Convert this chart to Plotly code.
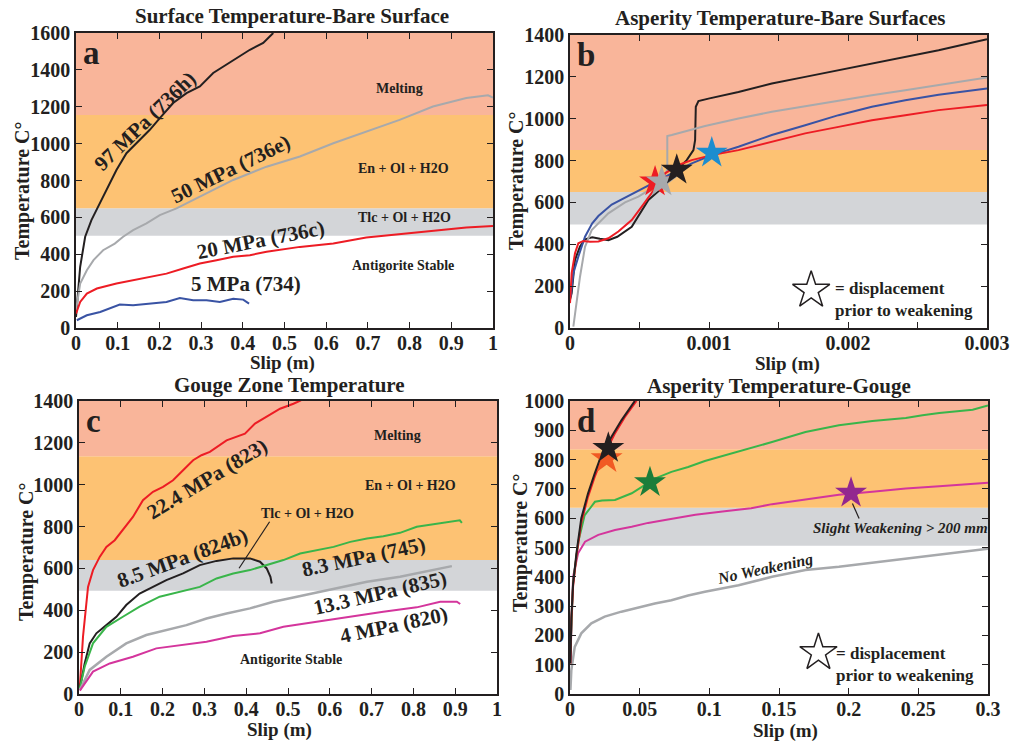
import plotly.graph_objects as go

# ---------------- Panel a : Surface Temperature - Bare Surface ----------------
a_bands = [500, 650, 1155, 1600]
a_97_x = [0, 0.003, 0.01, 0.022, 0.037, 0.051, 0.073, 0.097, 0.121, 0.153, 0.177, 0.201, 0.233, 0.265, 0.297, 0.329, 0.361, 0.393, 0.417, 0.449, 0.473]
a_97_y = [60, 150, 332, 495, 585, 649, 748, 857, 948, 1020, 1075, 1138, 1220, 1274, 1310, 1383, 1428, 1473, 1509, 1546, 1600]
a_50_x = [0, 0.01, 0.026, 0.042, 0.065, 0.093, 0.113, 0.137, 0.169, 0.201, 0.241, 0.281, 0.337, 0.377, 0.457, 0.537, 0.617, 0.696, 0.776, 0.856, 0.936, 0.988, 1.0]
a_50_y = [96, 241, 313, 368, 422, 458, 495, 531, 567, 612, 649, 694, 757, 803, 875, 930, 1002, 1065, 1129, 1201, 1247, 1262, 1250]
a_20_x = [0, 0.01, 0.026, 0.05, 0.097, 0.137, 0.177, 0.217, 0.257, 0.297, 0.337, 0.377, 0.417, 0.457, 0.537, 0.617, 0.696, 0.776, 0.856, 0.936, 1.0]
a_20_y = [78, 141, 187, 214, 241, 259, 281, 295, 323, 350, 368, 386, 395, 413, 440, 458, 491, 509, 531, 545, 553]
a_5_x = [0.002, 0.026, 0.058, 0.081, 0.105, 0.137, 0.177, 0.217, 0.249, 0.281, 0.313, 0.345, 0.377, 0.401, 0.415]
a_5_y = [42, 69, 87, 105, 127, 123, 132, 141, 163, 150, 150, 141, 159, 154, 132]

# ---------------- Panel b : Asperity Temperature - Bare Surfaces ----------------
b_bands = [495, 650, 850, 1400]
b_black_x = [0, 0.000012, 0.000036, 0.000072, 0.000108, 0.00016, 0.000215, 0.000276, 0.00034, 0.000444, 0.000564, 0.00066, 0.000732, 0.00078, 0.00084, 0.000888, 0.0009, 0.000905, 0.000924, 0.000996, 0.001212, 0.001452, 0.001692, 0.001932, 0.002172, 0.002412, 0.002652, 0.003]
b_black_y = [135, 167, 326, 389, 424, 433, 426, 420, 436, 484, 612, 667, 723, 763, 802, 850, 898, 1057, 1084, 1096, 1128, 1168, 1200, 1232, 1263, 1295, 1327, 1380]
b_gray_x = [0.000024, 0.000048, 0.000072, 0.000108, 0.000156, 0.000276, 0.000396, 0.000492, 0.000588, 0.00066, 0.0007, 0.0007, 0.000732, 0.000972, 0.001212, 0.001452, 0.001692, 0.001932, 0.002172, 0.002412, 0.002652, 0.003]
b_gray_y = [6, 130, 245, 388, 468, 548, 600, 628, 667, 707, 755, 917, 922, 965, 1001, 1033, 1060, 1088, 1112, 1136, 1160, 1197]
b_blue_x = [0.000005, 0.000024, 0.00006, 0.000108, 0.00016, 0.000204, 0.0003, 0.000396, 0.000492, 0.000612, 0.000732, 0.000876, 0.00102, 0.001212, 0.001452, 0.001692, 0.001932, 0.002172, 0.002412, 0.002652, 0.003]
b_blue_y = [150, 262, 341, 436, 500, 535, 590, 624, 655, 699, 739, 787, 826, 866, 922, 969, 1017, 1057, 1088, 1115, 1144]
b_red_x = [0, 0.000012, 0.000036, 0.00006, 0.000096, 0.000144, 0.000204, 0.000276, 0.000348, 0.000444, 0.000516, 0.000612, 0.000684, 0.00078, 0.000876, 0.00102, 0.001212, 0.001452, 0.001692, 0.001932, 0.002172, 0.002412, 0.002652, 0.003]
b_red_y = [119, 262, 357, 405, 416, 412, 413, 429, 461, 516, 580, 667, 739, 779, 802, 826, 850, 890, 930, 961, 993, 1017, 1041, 1065]
b_star_x = [0.000612, 0.00066, 0.000768, 0.00102]
b_star_y = [699, 699, 755, 837]
b_star_colors = ["#ed1c24", "#a7a9ac", "#231f20", "#1c8dcf"]

# ---------------- Panel c : Gouge Zone Temperature ----------------
c_bands = [493, 640, 1136, 1400]
c_224_x = [0.002, 0.0096, 0.0216, 0.0335, 0.0495, 0.0655, 0.0855, 0.105, 0.129, 0.153, 0.177, 0.201, 0.225, 0.249, 0.273, 0.293, 0.313, 0.353, 0.397, 0.421, 0.449, 0.481, 0.513, 0.531]
c_224_y = [35, 274, 512, 592, 655, 703, 735, 783, 846, 926, 966, 990, 1021, 1069, 1117, 1141, 1157, 1212, 1244, 1292, 1324, 1363, 1387, 1403]
c_85_x = [0.002, 0.0136, 0.0256, 0.0415, 0.0655, 0.0895, 0.113, 0.145, 0.177, 0.209, 0.249, 0.289, 0.329, 0.369, 0.409, 0.433, 0.449, 0.458, 0.461]
c_85_y = [27, 146, 242, 290, 329, 369, 425, 480, 512, 544, 576, 616, 636, 648, 648, 632, 600, 560, 528]
c_83_x = [0.002, 0.0136, 0.0335, 0.0655, 0.105, 0.145, 0.193, 0.241, 0.289, 0.329, 0.369, 0.409, 0.449, 0.489, 0.529, 0.569, 0.609, 0.649, 0.689, 0.728, 0.768, 0.808, 0.848, 0.888, 0.911, 0.916]
c_83_y = [27, 130, 242, 321, 369, 417, 465, 488, 512, 552, 576, 592, 616, 640, 671, 687, 703, 727, 743, 754, 770, 799, 811, 826, 830, 818]
c_133_x = [0.002, 0.0256, 0.0655, 0.113, 0.161, 0.209, 0.257, 0.305, 0.353, 0.409, 0.465, 0.513, 0.569, 0.609, 0.689, 0.768, 0.848, 0.892]
c_133_y = [19, 115, 178, 242, 282, 305, 329, 361, 385, 409, 441, 461, 484, 504, 536, 560, 595, 611]
c_4_x = [0.002, 0.0335, 0.0735, 0.129, 0.185, 0.249, 0.305, 0.369, 0.433, 0.489, 0.569, 0.649, 0.728, 0.808, 0.864, 0.904, 0.912]
c_4_y = [16, 107, 146, 178, 218, 234, 250, 277, 290, 321, 345, 372, 393, 414, 441, 441, 430]

# ---------------- Panel d : Asperity Temperature - Gouge ----------------
d_bands = [506, 636, 835, 1000]
d_red_x = [0.0003, 0.00096, 0.0022, 0.0046, 0.0081, 0.0129, 0.0177, 0.0225, 0.0273, 0.0321, 0.0393, 0.0477]
d_red_y = [104, 252, 366, 470, 585, 673, 741, 797, 843, 888, 945, 1000]
d_black_x = [0.0003, 0.00096, 0.0022, 0.0046, 0.0081, 0.0129, 0.0177, 0.0225, 0.0297, 0.0369, 0.0465]
d_black_y = [104, 260, 375, 480, 600, 684, 752, 815, 877, 934, 1000]
d_green_x = [0.0003, 0.0022, 0.006, 0.0105, 0.0144, 0.0179, 0.0230, 0.0323, 0.0443, 0.0609, 0.0728, 0.0848, 0.0968, 0.109, 0.121, 0.145, 0.169, 0.193, 0.217, 0.241, 0.253, 0.265, 0.289, 0.3]
d_green_y = [139, 380, 520, 610, 634, 656, 660, 662, 685, 735, 758, 775, 795, 811, 826, 860, 894, 917, 932, 942, 951, 959, 970, 985]
d_mag_x = [0.0003, 0.0022, 0.0058, 0.0108, 0.0203, 0.0323, 0.0443, 0.0560, 0.0682, 0.0900, 0.111, 0.130, 0.145, 0.169, 0.193, 0.217, 0.241, 0.265, 0.3]
d_mag_y = [116, 400, 480, 520, 543, 560, 571, 584, 594, 612, 624, 634, 648, 665, 680, 690, 701, 709, 721]
d_gray_x = [0.0003, 0.00096, 0.0034, 0.0081, 0.0153, 0.0249, 0.0369, 0.0489, 0.0609, 0.0728, 0.0848, 0.0968, 0.121, 0.145, 0.169, 0.193, 0.217, 0.241, 0.265, 0.3]
d_gray_y = [14, 82, 161, 207, 241, 264, 281, 295, 309, 320, 336, 349, 371, 400, 423, 434, 448, 462, 476, 496]
d_star_x = [0.0263, 0.0275, 0.0574, 0.2017]
d_star_y = [804, 839, 722, 686]
d_star_colors = ["#f15a24", "#231f20", "#1b7d3a", "#92278f"]

# ---------------- Styling ----------------
BLACK = "#231f20"
GRAY = "#a7a9ac"
RED = "#ed1c24"
BLUE = "#3953a4"
GREEN = "#39b54a"
MAGENTA = "#d4359c"
BAND_COLORS = ["#d3d5d8", "#fdc273", "#f9b59a"]
SERIF = "Liberation Serif, Times New Roman, serif"

W, H = 1010, 742


def px_x(x):
    return x / W


def px_y(y):
    return 1 - y / H


def dom_x(x0, x1):
    return [px_x(x0), px_x(x1)]


def dom_y(top, bottom):
    return [px_y(bottom), px_y(top)]


fig = go.Figure()


def line(x, y, color, ax, width=2.0):
    xa = "x" if ax == 1 else f"x{ax}"
    ya = "y" if ax == 1 else f"y{ax}"
    fig.add_trace(go.Scatter(x=x, y=y, mode="lines", line=dict(color=color, width=width),
                             xaxis=xa, yaxis=ya, showlegend=False, hoverinfo="skip"))


def stars(x, y, colors, ax, size=24):
    xa = f"x{ax}"
    ya = f"y{ax}"
    for xi, yi, c in zip(x, y, colors):
        fig.add_trace(go.Scatter(x=[xi], y=[yi], mode="markers",
                                 marker=dict(symbol="star", size=size, color=c, line=dict(width=0)),
                                 xaxis=xa, yaxis=ya, showlegend=False, hoverinfo="skip"))


# Panel a
line(a_97_x, a_97_y, BLACK, 1)
line(a_50_x, a_50_y, GRAY, 1)
line(a_20_x, a_20_y, RED, 1)
line(a_5_x, a_5_y, BLUE, 1)
# Panel b
line(b_black_x, b_black_y, BLACK, 2)
line(b_gray_x, b_gray_y, GRAY, 2)
line(b_blue_x, b_blue_y, BLUE, 2)
line(b_red_x, b_red_y, RED, 2)
stars(b_star_x, b_star_y, b_star_colors, 2)
fig.add_trace(go.Scatter(x=[0.001735], y=[180], mode="markers", xaxis="x2", yaxis="y2",
                         marker=dict(symbol="star-open", size=28, color=BLACK, line=dict(width=1.5)),
                         showlegend=False, hoverinfo="skip"))
# Panel c
line(c_224_x, c_224_y, RED, 3)
line(c_85_x, c_85_y, BLACK, 3)
line(c_83_x, c_83_y, GREEN, 3)
line(c_133_x, c_133_y, GRAY, 3, width=2.5)
line(c_4_x, c_4_y, MAGENTA, 3)
# Panel d
line(d_gray_x, d_gray_y, GRAY, 4, width=2.5)
line(d_mag_x, d_mag_y, MAGENTA, 4)
line(d_green_x, d_green_y, GREEN, 4)
line(d_red_x, d_red_y, RED, 4)
line(d_black_x, d_black_y, BLACK, 4)
stars(d_star_x, d_star_y, d_star_colors, 4)
fig.add_trace(go.Scatter(x=[0.1783], y=[141], mode="markers", xaxis="x4", yaxis="y4",
                         marker=dict(symbol="star-open", size=28, color=BLACK, line=dict(width=1.5)),
                         showlegend=False, hoverinfo="skip"))

# Bands
shapes = []
for ax, bands in [(1, a_bands), (2, b_bands), (3, c_bands), (4, d_bands)]:
    xr = "x domain" if ax == 1 else f"x{ax} domain"
    yr = "y" if ax == 1 else f"y{ax}"
    for i in range(3):
        shapes.append(dict(type="rect", xref=xr, yref=yr, x0=0, x1=1, y0=bands[i], y1=bands[i + 1],
                           fillcolor=BAND_COLORS[i], line=dict(width=0), layer="below"))
# leader lines
shapes.append(dict(type="line", xref="x3", yref="y3", x0=0.456, y0=823, x1=0.383, y1=601,
                   line=dict(color=BLACK, width=1.2)))
shapes.append(dict(type="line", xref="x4", yref="y4", x0=0.2027, y0=650, x1=0.2075, y1=599,
                   line=dict(color=BLACK, width=1.2)))

tickfont = dict(family=SERIF, size=20, color=BLACK, weight="bold")


def xaxis(domain, anchor, rng, dtick, minor=None):
    d = dict(domain=domain, anchor=anchor, range=rng, dtick=dtick, tick0=0, ticks="inside", ticklen=6,
             tickcolor=BLACK, showline=True, linecolor=BLACK, linewidth=1.5, mirror="ticks",
             showgrid=False, zeroline=False, tickfont=tickfont, automargin=False,
             ticklabelstandoff=-4)
    if minor:
        d["minor"] = dict(dtick=minor, tick0=0, ticks="inside", ticklen=6, tickcolor=BLACK, showgrid=False)
    return d


def yaxis(domain, anchor, rng, dtick):
    return dict(domain=domain, anchor=anchor, range=rng, dtick=dtick, tick0=0, ticks="inside", ticklen=6,
                tickcolor=BLACK, showline=True, linecolor=BLACK, linewidth=1.5, mirror="ticks",
                showgrid=False, zeroline=False, tickfont=tickfont, automargin=False)


fig.update_layout(
    width=W, height=H, margin=dict(l=0, r=0, t=0, b=0, autoexpand=False),
    paper_bgcolor="white", plot_bgcolor="white", showlegend=False,
    xaxis=xaxis(dom_x(76, 493), "y", [0, 1], 0.1),
    yaxis=yaxis(dom_y(33, 328), "x", [0, 1600], 200),
    xaxis2=xaxis(dom_x(570, 987), "y2", [0, 0.003], 0.001, minor=0.0005),
    yaxis2=yaxis(dom_y(35, 328), "x2", [0, 1400], 200),
    xaxis3=xaxis(dom_x(79, 497), "y3", [0, 1], 0.1),
    yaxis3=yaxis(dom_y(401, 694), "x3", [0, 1400], 200),
    xaxis4=xaxis(dom_x(570, 988), "y4", [0, 0.3], 0.05),
    yaxis4=yaxis(dom_y(401, 694), "x4", [0, 1000], 100),
    shapes=shapes,
)

ann = []


def text(t, ax, x, y, size=14, angle=0, italic=False, xanchor="center", align="center"):
    xr = "x" if ax == 1 else f"x{ax}"
    yr = "y" if ax == 1 else f"y{ax}"
    ann.append(dict(text=t, xref=xr, yref=yr, x=x, y=y, showarrow=False, textangle=angle,
                    xanchor=xanchor, yanchor="middle", align=align,
                    font=dict(family=SERIF, size=size, color=BLACK, weight="bold",
                              style="italic" if italic else "normal")))


def paper_text(t, x, y, size, angle=0):
    ann.append(dict(text=t, xref="paper", yref="paper", x=px_x(x), y=px_y(y), showarrow=False,
                    xanchor="center", yanchor="middle", textangle=angle,
                    font=dict(family=SERIF, size=size, color=BLACK, weight="bold")))


# titles
paper_text("Surface Temperature-Bare Surface", 292, 16, 21)
paper_text("Asperity Temperature-Bare Surfaces", 780, 18, 21)
paper_text("Gouge Zone Temperature", 289, 385, 21)
paper_text("Asperity Temperature-Gouge", 779, 386, 21)
# axis titles
for sx, sy, tx, ty in [(282, 363, 22, 191), (787, 364, 517, 181), (279, 730, 26, 552), (785, 731, 520, 543)]:
    paper_text("Slip (m)", sx, sy, 19)
    paper_text("Temperature C°", tx, ty, 20, angle=-90)

# panel letters
for i, letter in enumerate(["a", "b", "c", "d"]):
    xr = "x domain" if i == 0 else f"x{i+1} domain"
    yr = "y domain" if i == 0 else f"y{i+1} domain"
    ann.append(dict(text=letter, xref=xr, yref=yr, x=0.012, y=1.0, showarrow=False, xanchor="left",
                    yanchor="top", font=dict(family=SERIF, size=33, color=BLACK, weight="bold")))

# panel a labels
text("Melting", 1, 0.776, 1301)
text("En + Ol + H2O", 1, 0.786, 866)
text("Tlc + Ol + H2O", 1, 0.788, 598)
text("Antigorite Stable", 1, 0.784, 341)
text("97 MPa (736h)", 1, 0.1655, 1123, size=21, angle=-44)
text("50 MPa (736e)", 1, 0.371, 861, size=21, angle=-26)
text("20 MPa (736c)", 1, 0.442, 477, size=21, angle=-11)
text("5 MPa (734)", 1, 0.407, 241, size=21)
# panel b
text("= displacement<br>prior to weakening", 2, 0.00189, 137, size=17, xanchor="left", align="left")
# panel c
text("Melting", 3, 0.762, 1236)
text("En + Ol + H2O", 3, 0.794, 998)
text("Tlc + Ol + H2O", 3, 0.546, 862)
text("Antigorite Stable", 3, 0.506, 165)
text("22.4 MPa (823)", 3, 0.306, 1029, size=21, angle=-31)
text("8.5 MPa (824b)", 3, 0.248, 650, size=21, angle=-20)
text("8.3 MPa (745)", 3, 0.68, 655, size=21, angle=-12)
text("13.3 MPa (835)", 3, 0.72, 484, size=21, angle=-13)
text("4 MPa (820)", 3, 0.754, 329, size=21, angle=-12)
# panel d
text("Slight Weakening > 200 mm", 4, 0.237, 568, size=15, italic=True)
text("No Weakening", 4, 0.14, 428, size=16, angle=-12, italic=True)
text("= displacement<br>prior to weakening", 4, 0.1898, 99, size=17, xanchor="left", align="left")

fig.update_layout(annotations=ann)
fig.write_html("out.html", config={"displayModeBar": False},
               post_script="document.body.style.margin='0';document.body.style.overflow='hidden';")
